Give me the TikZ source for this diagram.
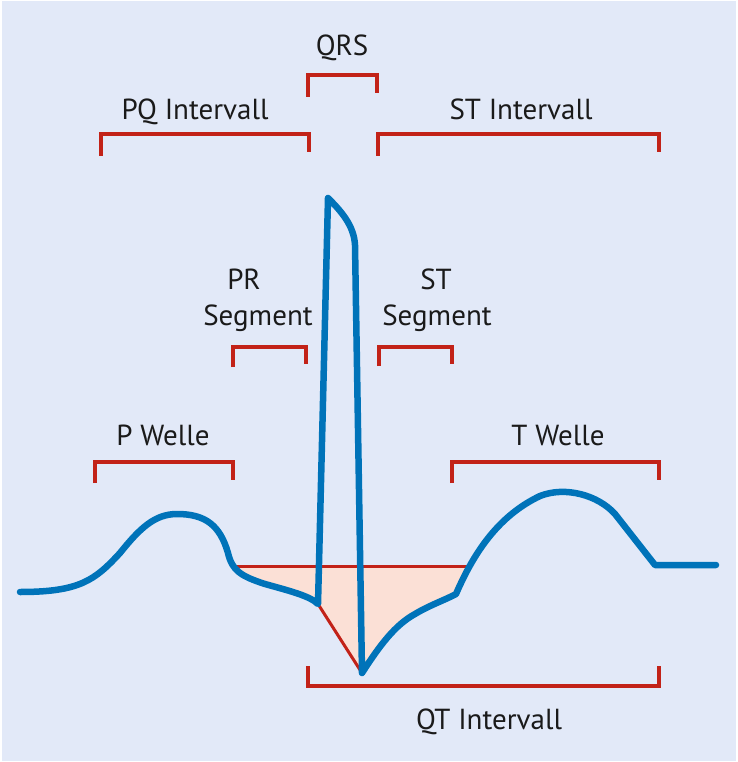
\documentclass[tikz,border=0pt]{standalone}
\usepackage{fontspec}
\setmainfont{PT Sans}
\definecolor{bgblue}{HTML}{E2E9F8}
\definecolor{brred}{HTML}{C22218}
\definecolor{ecgblue}{HTML}{0073B9}
\definecolor{pinkfill}{HTML}{FBE0D6}
\definecolor{txt}{HTML}{1A1A1A}
\tikzset{
  lbl/.style={anchor=base, text=txt, inner sep=0pt, font=\fontsize{29}{34}\selectfont},
  brk/.style={draw=brred, line width=3.6pt, line cap=butt, line join=miter},
  ecg/.style={draw=ecgblue, line width=6.5pt, line cap=round, line join=round},
  redline/.style={draw=brred, line width=3pt}
}
\begin{document}
\begin{tikzpicture}[x=1pt,y=-1pt]
\useasboundingbox (0,0) rectangle (737,762);
\fill[white] (0,0) rectangle (737,762);
\fill[bgblue] (1.5,1.5) rectangle (735.5,760.5);

% pink area
\fill[pinkfill] (233,566) -- (469,566) -- (456,594)
  .. controls (445,600) and (430,605) .. (415,614)
  .. controls (395,625) and (380,645) .. (362,673)
  -- (318,604)
  .. controls (310,596) and (290,591) .. (265,584)
  .. controls (240,576) and (232,570) .. (229,558) -- cycle;

% red reference lines
\coordinate (bl) at (231,566);
\coordinate (br) at (469,566);
\coordinate (qdip) at (318,604);
\coordinate (sdip) at (362,673);
\draw[redline] (bl) -- (br);
\draw[redline] (qdip) -- (sdip);

% ECG curve
\draw[ecg] (20,592) .. controls (80,592) and (95,580) .. (120,553)
  .. controls (140,528) and (155,514) .. (177,514)
  .. controls (205,514) and (220,525) .. (228,553)
  .. controls (232,570) and (240,576) .. (265,584)
  .. controls (290,591) and (310,596) .. (qdip)
  -- (328,198)
  .. controls (340,210) and (354,225) .. (355,245)
  -- (sdip)
  .. controls (380,645) and (395,625) .. (415,614)
  .. controls (430,605) and (445,600) .. (456,594)
  .. controls (475,550) and (500,515) .. (540,496)
  .. controls (565,486) and (598,495) .. (615,514)
  -- (655,565) -- (716,565);

% brackets
\draw[brk] (308,97) -- (308,75) -- (377,75) -- (377,93);
\draw[brk] (101,156) -- (101,134) -- (309,134) -- (309,152);
\draw[brk] (378,156) -- (378,134) -- (659,134) -- (659,152);
\draw[brk] (233,367) -- (233,347) -- (306,347) -- (306,364);
\draw[brk] (379,366) -- (379,347) -- (452,347) -- (452,364);
\draw[brk] (95,483) -- (95,462) -- (233,462) -- (233,480);
\draw[brk] (452,483) -- (452,462) -- (659,462) -- (659,480);
\draw[brk] (308,666) -- (308,686) -- (659,686) -- (659,666);

% labels
\node[lbl] (qrs) at (342,56) {QRS};
\node[lbl] (pq) at (195,120) {PQ Intervall};
\node[lbl] (st) at (521,120) {ST Intervall};
\node[lbl] (pr1) at (244,289) {PR};
\node[lbl] (pr2) at (258,325) {Segment};
\node[lbl] (ss1) at (436,289) {ST};
\node[lbl] (ss2) at (437,325) {Segment};
\node[lbl] (pw) at (163,445) {P Welle};
\node[lbl] (tw) at (558,445) {T Welle};
\node[lbl] (qt) at (489,729) {QT Intervall};
\end{tikzpicture}
\end{document}
